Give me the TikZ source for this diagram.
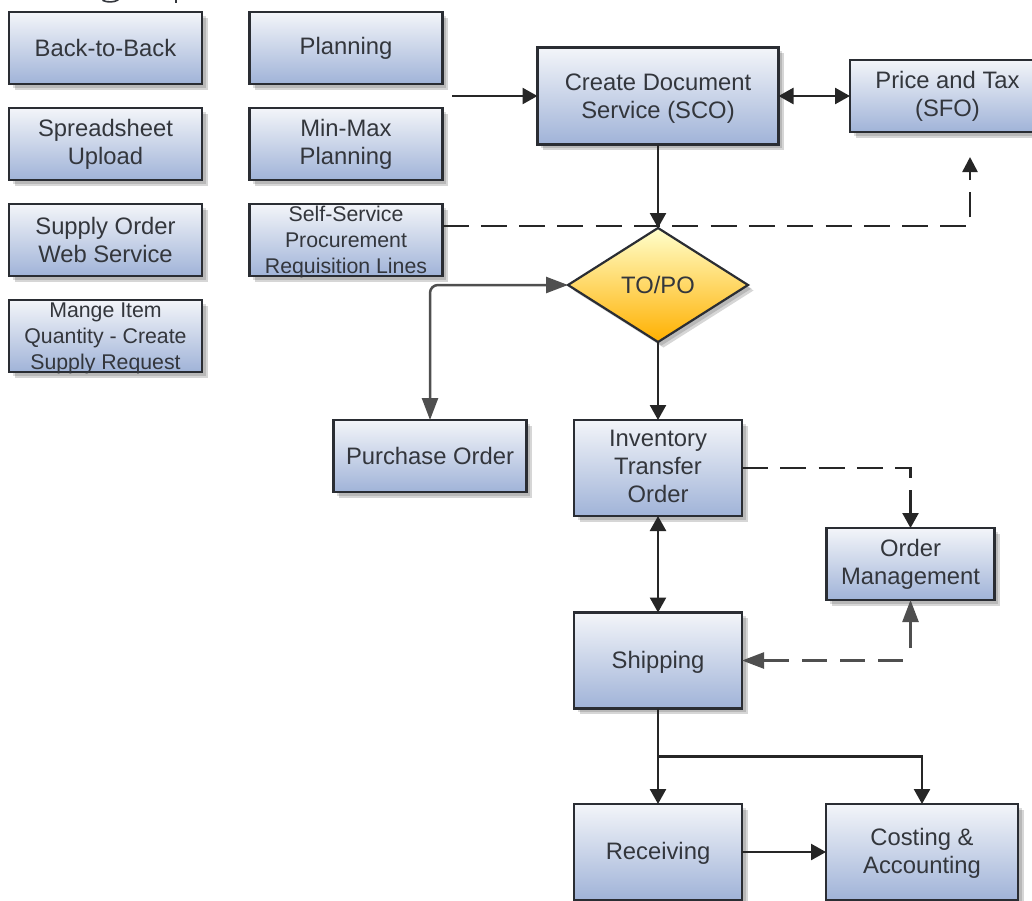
\documentclass[tikz,border=0pt]{standalone}
\usepackage{fontspec}
\setmainfont{Liberation Sans}
\usetikzlibrary{arrows.meta,shapes.geometric,shadows}
\definecolor{edge}{HTML}{2A2D33}
\definecolor{txt}{HTML}{33363C}
\definecolor{graya}{HTML}{4F4F4F}
\definecolor{linea}{HTML}{262626}
% text block moved down inside its node, the node size staying put
\newcommand\nudged[2]{\raisebox{-#1}[\height][\depth]{\begin{tabular}{@{}c@{}}#2\end{tabular}}}
% same, for text taller than its box: it may overrun the border
\newcommand\overrun[2]{\raisebox{-#1}[30pt][30pt]{\begin{tabular}{@{}c@{}}#2\end{tabular}}}
\tikzset{
  softshadow/.style={
    general shadow={shadow xshift=3.5pt,shadow yshift=-3.5pt,fill=black,opacity=.14},
    general shadow={shadow xshift=5.5pt,shadow yshift=-5.5pt,fill=black,opacity=.16}},
  bx/.style={rectangle,softshadow,draw=edge,line width=2.4pt,inner sep=0pt,outer sep=0pt,align=center,
    top color={rgb,255:red,243;green,245;blue,249},
    bottom color={rgb,255:red,160;green,179;blue,216},
    text=txt,font=\fontsize{23.8pt}{28pt}\selectfont},
  wide/.style={bx,minimum width=193pt,minimum height=72pt},
  narrow/.style={bx,minimum width=168pt,minimum height=96pt},
  tight/.style={wide,font=\fontsize{21.3pt}{26pt}\selectfont},
  decision/.style={diamond,softshadow,draw=edge,line width=2.2pt,inner sep=0pt,outer sep=0pt,
    shape aspect=1.58,minimum width=180pt,minimum height=114pt,
    top color={rgb,255:red,255;green,255;blue,204},
    middle color={rgb,255:red,255;green,214;blue,102},
    bottom color={rgb,255:red,255;green,176;blue,0},
    text=txt,font=\fontsize{23.8pt}{28pt}\selectfont},
  flow/.style={draw=linea,line width=2.5pt,-{Triangle[length=15pt,width=16pt]}},
  both/.style={draw=linea,line width=2.5pt,{Triangle[length=15pt,width=16pt]}-{Triangle[length=15pt,width=16pt]}},
  dashline/.style={draw=linea,line width=2.5pt,dash pattern=on 26pt off 12.3pt},
  soft/.style={draw=graya,line width=2.5pt},
  softhead/.style={soft,-{Triangle[length=22pt,width=16pt]}}
}
\begin{document}
\begin{tikzpicture}[x=1pt,y=-1pt]
\useasboundingbox (0,0) rectangle (1032,900);
% tails of a title cut off by the top edge
\draw[txt,line width=1.6pt,line cap=round] (103,0.5) .. controls (107,2.5) and (114,2.5) .. (118,0);
\draw[txt,line width=2pt] (175.5,0) -- (175.5,3);
% left column
\node[wide] (back) at (105.5,48) {Back-to-Back};
\node[wide] (sheet) at (105.5,144) {\nudged{1pt}{Spreadsheet\\Upload}};
\node[wide] (web) at (105.5,240) {Supply Order\\Web Service};
\node[tight] (mange) at (105.5,336) {\overrun{7.3pt}{Mange Item\\Quantity - Create\\Supply Request}};
% second column
\node[wide] (plan) at (346,48) {\nudged{1pt}{Planning}};
\node[wide] (minmax) at (346,144) {\nudged{1pt}{Min-Max\\Planning}};
\node[tight] (self) at (346,240) {\overrun{7.3pt}{Self-Service\\Procurement\\Requisition Lines}};
% main flow
\node[bx,minimum width=241pt,minimum height=97pt] (create) at (658,96) {\nudged{3pt}{Create Document\\Service (SCO)}};
\node[bx,minimum width=195pt,minimum height=72pt] (price) at (947.5,96) {\nudged{1pt}{Price and Tax\\(SFO)}};
\node[decision] (topo) at (658,285) {TO/PO};
\node[wide] (po) at (430,456) {Purchase Order};
\node[narrow] (ito) at (658,468) {\nudged{1pt}{Inventory\\Transfer\\Order}};
\node[bx,minimum width=168pt,minimum height=72pt] (om) at (910.5,564) {\nudged{1pt}{Order\\Management}};
\node[narrow] (ship) at (658,660.5) {\nudged{2pt}{Shipping}};
\node[narrow] (recv) at (658,852) {\nudged{2pt}{Receiving}};
\node[bx,minimum width=192pt,minimum height=96pt] (cost) at (922,852) {\nudged{2pt}{Costing \&\\Accounting}};
% free ends
\coordinate (feed) at (452,96);
\coordinate (taxin) at (970,157);
\coordinate (fork) at (658,756.5);
% connectors
\draw[flow] (feed) -- (create.west);
\draw[both] (create.east) -- (price.west);
\draw[flow] (create.south) -- (topo.north);
\draw[dashline] (self.east |- 0,226) -- (taxin |- 0,226) -- (taxin |- 0,192);
\draw[draw=linea,line width=2.5pt,-{Triangle[length=15pt,width=15pt]}] (taxin |- 0,180) -- (taxin);
\draw[soft,rounded corners=8pt,{Triangle[length=22pt,width=16pt]}-{Triangle[length=22pt,width=16pt]}] (topo.west) -| (po.north);
\draw[flow] (topo.south) -- (ito.north);
\draw[dashline] (ito.east) -- (om.north |- ito.east) -- (om.north |- 0,478);
\draw[flow] (om.north |- 0,490) -- (om.north);
\draw[both] (ito.south) -- (ship.north);
\draw[soft,dash pattern=on 25pt off 13pt] (802,660.5) -- (905,660.5);
\draw[soft,{Triangle[length=22pt,width=16pt]}-] (ship.east) -- ++(47pt,0);
\draw[softhead] (om.south |- 0,648) -- (om.south);
\draw[flow] (ship.south) -- (recv.north);
\draw[flow] (fork) -| (cost.north);
\draw[flow] (recv.east) -- (cost.west);
\end{tikzpicture}
\end{document}
